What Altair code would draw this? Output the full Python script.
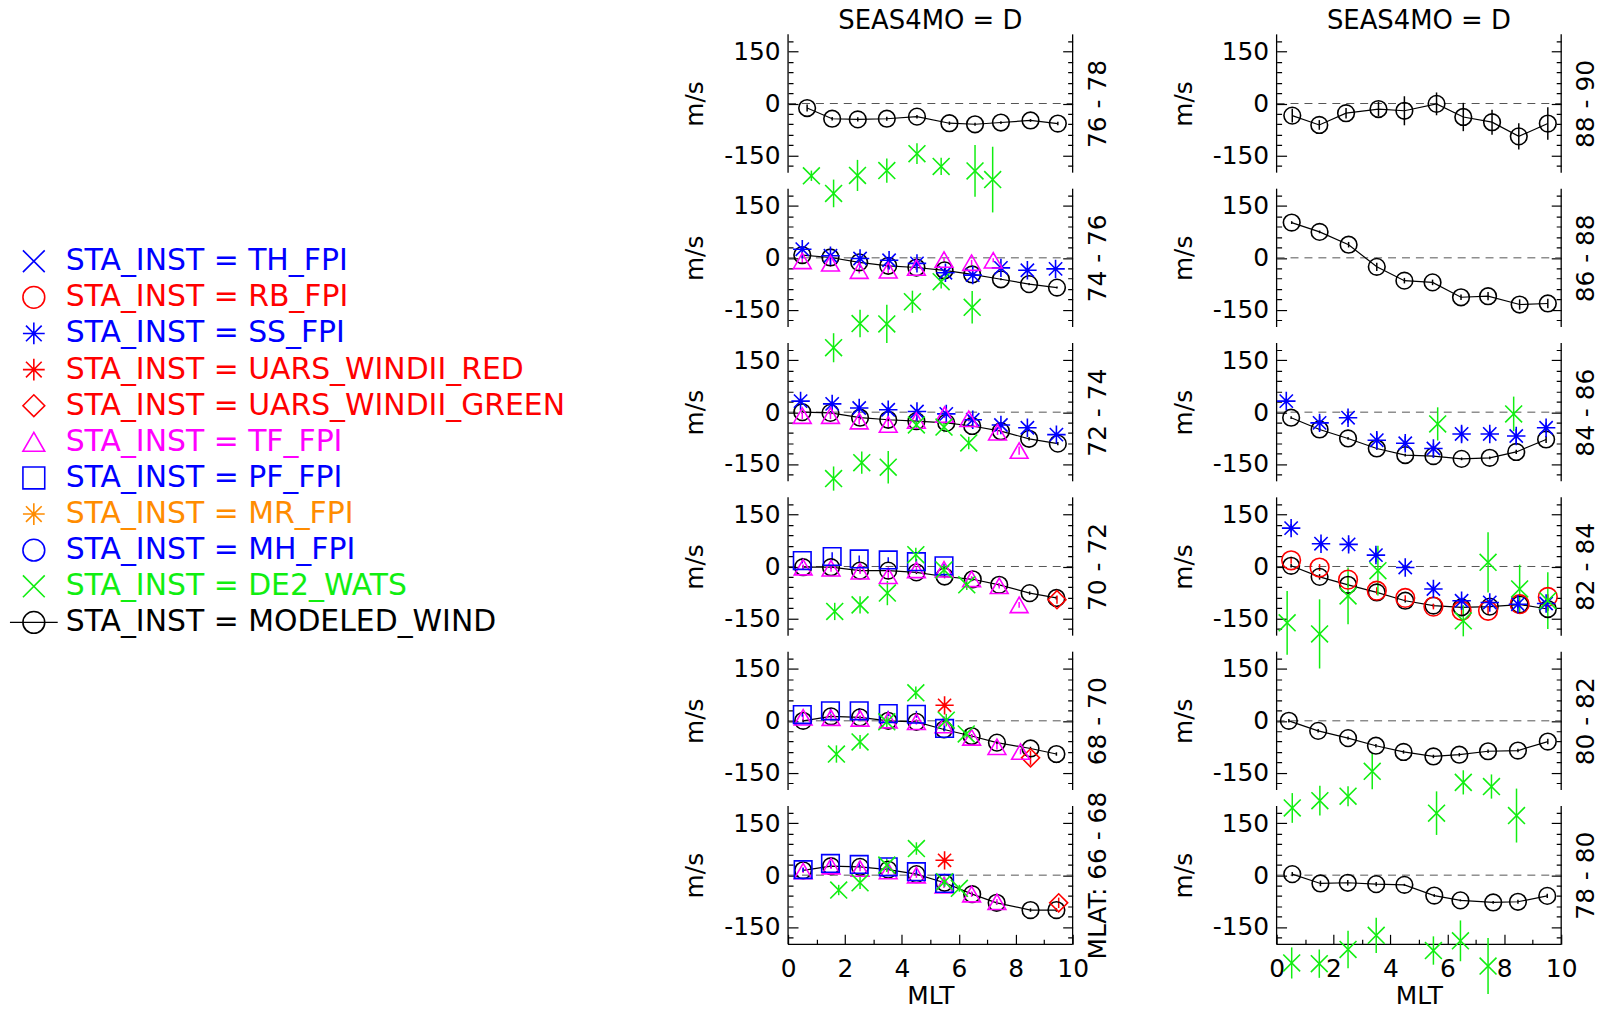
import altair as alt
import pandas as pd

FONT = "DejaVu Sans"

INSTRUMENTS = ["TH_FPI", "RB_FPI", "SS_FPI", "UARS_WINDII_RED", "UARS_WINDII_GREEN",
               "TF_FPI", "PF_FPI", "MR_FPI", "MH_FPI", "DE2_WATS", "MODELED_WIND"]
COLORS = ["#0000ff", "#ff0000", "#0000ff", "#ff0000", "#ff0000",
          "#ff00ff", "#0000ff", "#ff8c00", "#0000ff", "#11ee11", "#000000"]
XSHAPE = "M-1,-1L1,1M-1,1L1,-1"
ASTER = "M-1,0L1,0M0,-1L0,1M-0.72,-0.72L0.72,0.72M-0.72,0.72L0.72,-0.72"
SHAPES = [XSHAPE, "circle", ASTER, ASTER, "diamond",
          "triangle-up", "square", ASTER, "circle", XSHAPE, "circle"]
SIZES = [360, 280, 360, 360, 300, 300, 280, 360, 280, 360, 280]

# panel key -> right-hand label
LABELS = {
    "L1": "76 - 78", "L2": "74 - 76", "L3": "72 - 74", "L4": "70 - 72", "L5": "68 - 70", "L6": "MLAT: 66 - 68",
    "R1": "88 - 90", "R2": "86 - 88", "R3": "84 - 86", "R4": "82 - 84", "R5": "80 - 82", "R6": "78 - 80",
}

# values: instrument -> (MLT, wind m/s, error m/s)
L1 = {
    "MODELED_WIND": ([0.67, 1.55, 2.45, 3.47, 4.53, 5.67, 6.57, 7.48, 8.52, 9.48],
                     [-13, -44, -46, -44, -38, -57, -60, -55, -49, -58],
                     [10, 5, 6, 6, 5, 5, 4, 4, 4, 5]),
    "DE2_WATS": ([0.82, 1.6, 2.44, 3.47, 4.53, 5.38, 6.57, 7.19],
                 [-209, -260, -208, -194, -145, -182, -195, -220],
                 [15, 40, 45, 35, 30, 25, 75, 95]),
}
L2 = {
    "MODELED_WIND": ([0.5, 1.49, 2.5, 3.52, 4.51, 5.5, 6.47, 7.48, 8.47, 9.45],
                     [8, 1, -13, -23, -28, -36, -48, -62, -76, -86],
                     [8, 6, 8, 10, 6, 6, 5, 3, 3, 3]),
    "SS_FPI": ([0.5, 1.49, 2.53, 3.55, 4.53, 5.53, 6.49, 7.48, 8.41, 9.4],
               [25, 6, -2, -7, -16, -43, -50, -29, -36, -32],
               [6, 6, 6, 6, 6, 8, 8, 5, 4, 4]),
    "TF_FPI": ([0.5, 1.49, 2.5, 3.52, 4.51, 5.48, 6.45, 7.21],
               [-9, -16, -37, -36, -28, -5, -14, -7],
               [8, 10, 8, 8, 6, 6, 8, 6]),
    "DE2_WATS": ([1.6, 2.53, 3.47, 4.37, 5.38, 6.47],
                 [-260, -190, -191, -127, -69, -143],
                 [42, 40, 55, 32, 20, 47]),
}
L3 = {
    "MODELED_WIND": ([0.5, 1.49, 2.53, 3.52, 4.51, 5.56, 6.47, 7.48, 8.47, 9.48],
                     [0, -2, -16, -22, -26, -31, -40, -55, -77, -91],
                     [5, 5, 5, 5, 5, 5, 5, 5, 5, 5]),
    "SS_FPI": ([0.44, 1.55, 2.5, 3.52, 4.53, 5.56, 6.49, 7.48, 8.41, 9.43],
               [32, 24, 12, 7, 2, -5, -22, -37, -45, -65],
               [8, 8, 8, 8, 6, 6, 6, 6, 6, 6]),
    "TF_FPI": ([0.5, 1.49, 2.5, 3.52, 4.51, 5.5, 6.35, 7.36, 8.12],
               [-10, -10, -26, -36, -24, -7, -19, -58, -111],
               [10, 10, 10, 10, 8, 10, 8, 8, 12]),
    "DE2_WATS": ([1.6, 2.59, 3.52, 4.51, 5.48, 6.35],
                 [-192, -146, -159, -37, -43, -89],
                 [35, 32, 47, 12, 15, 18]),
}
L4 = {
    "MODELED_WIND": ([0.53, 1.51, 2.53, 3.52, 4.51, 5.5, 6.49, 7.42, 8.49, 9.43],
                     [-2, -2, -12, -12, -17, -29, -37, -53, -77, -91],
                     [5, 5, 5, 5, 5, 5, 5, 5, 5, 5]),
    "PF_FPI": ([0.5, 1.55, 2.5, 3.52, 4.51, 5.48],
               [17, 29, 22, 19, 14, 2],
               [8, 12, 10, 8, 8, 6]),
    "TF_FPI": ([0.53, 1.51, 2.53, 3.52, 4.51, 5.48, 6.45, 7.42, 8.12],
               [-2, -5, -14, -27, -10, -8, -36, -56, -111],
               [8, 10, 8, 10, 8, 8, 8, 8, 8]),
    "UARS_WINDII_GREEN": ([9.45], [-96], [12]),
    "DE2_WATS": ([1.64, 2.53, 3.49, 4.49, 5.48, 6.28],
                 [-130, -111, -77, 34, -10, -53],
                 [25, 25, 35, 20, 15, 15]),
}
L5 = {
    "MODELED_WIND": ([0.53, 1.51, 2.53, 3.52, 4.51, 5.48, 6.45, 7.34, 8.52, 9.43],
                     [0, 13, 10, 0, -3, -25, -44, -63, -80, -96],
                     [5, 5, 5, 5, 5, 5, 5, 5, 5, 5]),
    "PF_FPI": ([0.5, 1.49, 2.5, 3.52, 4.51, 5.5],
               [18, 29, 29, 21, 19, -22],
               [6, 8, 8, 8, 10, 8]),
    "TF_FPI": ([0.53, 1.51, 2.53, 3.52, 4.51, 5.48, 6.45, 7.34, 8.17],
               [10, 9, 7, 2, -3, -12, -48, -75, -89],
               [8, 8, 8, 8, 8, 8, 8, 8, 8]),
    "UARS_WINDII_GREEN": ([8.52], [-107], [20]),
    "UARS_WINDII_RED": ([5.5], [45], [8]),
    "DE2_WATS": ([1.7, 2.53, 3.47, 4.49, 5.56, 6.26],
                 [-96, -61, -3, 81, 2, -38],
                 [25, 20, 20, 18, 18, 12]),
}
L6 = {
    "MODELED_WIND": ([0.53, 1.51, 2.53, 3.52, 4.51, 5.5, 6.47, 7.33, 8.52, 9.43],
                     [14, 26, 24, 16, 3, -22, -55, -80, -101, -101],
                     [5, 5, 5, 5, 5, 5, 5, 5, 5, 5]),
    "PF_FPI": ([0.53, 1.49, 2.5, 3.52, 4.51, 5.5],
               [16, 34, 31, 24, 10, -24],
               [6, 8, 8, 8, 8, 8]),
    "TF_FPI": ([0.53, 1.51, 2.53, 3.52, 4.51, 5.48, 6.45, 7.34],
               [12, 26, 19, 12, 0, -29, -55, -77],
               [6, 8, 8, 8, 8, 8, 8, 8]),
    "UARS_WINDII_GREEN": ([9.51], [-80], [15]),
    "UARS_WINDII_RED": ([5.5], [43], [8]),
    "DE2_WATS": ([1.78, 2.53, 3.47, 4.51, 5.5, 6.02],
                 [-43, -22, 29, 77, -19, -38],
                 [15, 18, 20, 18, 15, 10]),
}
R1 = {
    "MODELED_WIND": ([0.55, 1.5, 2.44, 3.58, 4.49, 5.62, 6.56, 7.57, 8.51, 9.53],
                     [-35, -62, -28, -16, -21, -1, -39, -54, -95, -58],
                     [20, 14, 15, 21, 42, 33, 41, 36, 38, 47]),
}
R2 = {
    "MODELED_WIND": ([0.53, 1.51, 2.53, 3.52, 4.49, 5.48, 6.48, 7.43, 8.54, 9.53],
                     [102, 75, 38, -26, -66, -71, -114, -111, -135, -132],
                     [4, 4, 8, 12, 8, 8, 8, 12, 15, 14]),
}
R3 = {
    "MODELED_WIND": ([0.51, 1.51, 2.51, 3.52, 4.52, 5.51, 6.5, 7.49, 8.42, 9.47],
                     [-16, -50, -76, -105, -124, -127, -135, -132, -115, -79],
                     [4, 4, 4, 4, 4, 4, 4, 4, 6, 10]),
    "SS_FPI": ([0.34, 1.51, 2.51, 3.52, 4.52, 5.51, 6.5, 7.49, 8.42, 9.47],
               [32, -31, -16, -81, -90, -105, -63, -63, -69, -45],
               [10, 20, 15, 22, 20, 15, 22, 15, 20, 15]),
    "DE2_WATS": ([5.66, 8.33], [-34, -5], [48, 50]),
}
R4 = {
    "MODELED_WIND": ([0.51, 1.51, 2.51, 3.52, 4.52, 5.51, 6.5, 7.49, 8.54, 9.53],
                     [2, -30, -53, -75, -99, -113, -118, -116, -110, -123],
                     [5, 8, 5, 5, 5, 5, 5, 5, 5, 5]),
    "RB_FPI": ([0.51, 1.51, 2.51, 3.52, 4.52, 5.51, 6.5, 7.43, 8.54, 9.53],
               [18, -3, -38, -70, -91, -116, -128, -128, -109, -88],
               [10, 10, 10, 10, 8, 8, 12, 12, 8, 8]),
    "SS_FPI": ([0.51, 1.56, 2.53, 3.49, 4.52, 5.51, 6.5, 7.49, 8.48, 9.47],
               [111, 66, 64, 33, -3, -65, -99, -104, -109, -107],
               [12, 12, 18, 20, 8, 12, 10, 10, 12, 12]),
    "DE2_WATS": ([0.37, 1.51, 2.51, 3.56, 6.56, 7.43, 8.54, 9.53],
                 [-163, -195, -85, -12, -157, 12, -65, -99],
                 [92, 100, 82, 72, 45, 87, 70, 82]),
}
R5 = {
    "MODELED_WIND": ([0.43, 1.46, 2.51, 3.49, 4.46, 5.51, 6.42, 7.43, 8.48, 9.53],
                     [0, -29, -50, -72, -90, -103, -98, -88, -86, -60],
                     [5, 5, 5, 5, 5, 5, 5, 5, 5, 8]),
    "DE2_WATS": ([0.55, 1.52, 2.51, 3.36, 5.62, 6.56, 7.55, 8.43],
                 [-252, -231, -218, -146, -267, -178, -190, -274],
                 [43, 43, 29, 52, 63, 35, 35, 78]),
}
R6 = {
    "MODELED_WIND": ([0.55, 1.54, 2.5, 3.5, 4.49, 5.54, 6.46, 7.61, 8.48, 9.51],
                     [3, -24, -22, -26, -28, -59, -73, -79, -77, -60],
                     [6, 8, 8, 6, 3, 4, 3, 4, 6, 6]),
    "DE2_WATS": ([0.53, 1.5, 2.51, 3.5, 5.51, 6.46, 7.43],
                 [-254, -256, -215, -174, -218, -190, -263],
                 [45, 41, 54, 51, 41, 59, 81]),
}
PANELS = {"L1": L1, "L2": L2, "L3": L3, "L4": L4, "L5": L5, "L6": L6,
          "R1": R1, "R2": R2, "R3": R3, "R4": R4, "R5": R5, "R6": R6}

YTICKS = list(range(-180, 181, 30))
XTICKS = list(range(0, 11))

rows = []
for key, series in PANELS.items():
    for inst in ["MODELED_WIND"] + [i for i in INSTRUMENTS if i != "MODELED_WIND"]:
        if inst not in series:
            continue
        xs, ys, es = series[inst]
        for x, y, e in zip(xs, ys, es):
            rows.append({"panel": key, "inst": inst, "x": x, "y": y, "lo": y - e, "hi": y + e})
DF = pd.DataFrame(rows)

W, H = 286, 139
XSC = alt.Scale(domain=[0, 10], nice=False, zero=False)
YSC = alt.Scale(domain=[-200, 200], nice=False, zero=False)
COLOR = alt.Color("inst:N", scale=alt.Scale(domain=INSTRUMENTS, range=COLORS), legend=None)
SHAPE = alt.Shape("inst:N", scale=alt.Scale(domain=INSTRUMENTS, range=SHAPES), legend=None)
SIZE = alt.Size("inst:N", scale=alt.Scale(domain=INSTRUMENTS, range=SIZES), legend=None)
FS = 25


def y_dash():
    return {"condition": {"test": "datum.value % 150 === 0", "value": [10, 0]}, "value": [0, 5, 5]}


def left_axis():
    return alt.Axis(orient="left", values=YTICKS, offset=-10, domain=False, grid=False,
                    tickSize=10, tickColor="black", tickWidth=1.2, tickDash=y_dash(),
                    labelExpr="datum.value % 150 === 0 ? '' + datum.value : ''",
                    labelFont=FONT, labelFontSize=FS, labelColor="black", labelPadding=8,
                    labelOverlap=False, labelFlush=False,
                    title="m/s", titleFont=FONT, titleFontSize=FS, titleFontWeight="normal",
                    titleColor="black", titlePadding=16)


def right_axis(label):
    return alt.Axis(orient="right", values=YTICKS, offset=-10, domain=False, grid=False,
                    tickSize=10, tickColor="black", tickWidth=1.2, tickDash=y_dash(),
                    labels=False, title=label, titleAngle=270, titleBaseline="top",
                    titleFont=FONT, titleFontSize=FS, titleFontWeight="normal",
                    titleColor="black", titlePadding=12)


def x_axis():
    return alt.Axis(orient="bottom", values=XTICKS, offset=-10, domain=False, grid=False,
                    tickSize=10, tickColor="black", tickWidth=1.2,
                    tickDash={"condition": {"test": "datum.value % 2 === 0", "value": [10, 0]},
                              "value": [0, 5, 5]},
                    labelExpr="datum.value % 2 === 0 ? datum.label : ''",
                    labelFont=FONT, labelFontSize=FS, labelColor="black", labelPadding=12,
                    labelOverlap=False, labelFlush=False,
                    title="MLT", titleFont=FONT, titleFontSize=FS, titleFontWeight="normal",
                    titleColor="black", titlePadding=2)


ONE = pd.DataFrame({"k": [0]})


def panel(key, top, bottom):
    base = alt.Chart(DF).transform_filter(alt.datum.panel == key)
    one = alt.Chart(ONE)
    frame_l = one.mark_rule(color="black", strokeWidth=1.3).encode(
        x=alt.XDatum(0, scale=XSC, axis=None), y=alt.YDatum(-200, scale=YSC, axis=None),
        y2=alt.Y2Datum(200))
    frame_r = one.mark_rule(color="black", strokeWidth=1.3).encode(
        x=alt.XDatum(10, scale=XSC, axis=None), y=alt.YDatum(-200, scale=YSC, axis=None),
        y2=alt.Y2Datum(200))
    zero = one.mark_rule(color="#555555", strokeWidth=1, strokeDash=[8, 6]).encode(
        x=alt.XDatum(0, scale=XSC, axis=None), x2=alt.X2Datum(10),
        y=alt.YDatum(0, scale=YSC, axis=None))
    line = base.transform_filter(alt.datum.inst == "MODELED_WIND").mark_line(
        color="black", strokeWidth=1.2).encode(
        x=alt.X("x:Q", scale=XSC, axis=None),
        y=alt.Y("y:Q", scale=YSC, axis=right_axis(LABELS[key])))
    err = base.mark_rule(strokeWidth=1.5).encode(
        x=alt.X("x:Q", scale=XSC, axis=None),
        y=alt.Y("lo:Q", scale=YSC, axis=None), y2="hi:Q", color=COLOR)
    pts = base.mark_point(filled=False, strokeWidth=1.6, opacity=1).encode(
        x=alt.X("x:Q", scale=XSC, axis=x_axis() if bottom else None),
        y=alt.Y("y:Q", scale=YSC, axis=left_axis()),
        color=COLOR, shape=SHAPE, size=SIZE)
    layers = [zero, frame_l, frame_r]
    if bottom:
        layers.append(one.mark_rule(color="black", strokeWidth=1.3).encode(
            x=alt.XDatum(0, scale=XSC, axis=None), x2=alt.X2Datum(10),
            y=alt.YDatum(-200, scale=YSC, axis=None)))
    layers += [line, err, pts]
    ch = alt.layer(*layers).resolve_axis(x="independent", y="independent").properties(
        width=W, height=H)
    if top:
        ch = ch.properties(title=alt.TitleParams(
            text="SEAS4MO = D", font=FONT, fontSize=26, fontWeight="normal", color="black",
            anchor="middle", offset=-4.5))
    return ch


order = []
for r in range(1, 7):
    for c in ["L", "R"]:
        order.append(panel(f"{c}{r}", r == 1, r == 6))

grid = alt.concat(*order, columns=2, spacing={"row": 16.1, "column": 205}, bounds="flush")

# ---- legend ----
LEG = pd.DataFrame({"inst": INSTRUMENTS})
leg_base = alt.Chart(LEG).transform_calculate(label="'STA_INST = ' + datum.inst")
LEG_Y = alt.Y("inst:N", axis=None,
              scale=alt.Scale(type="point", domain=INSTRUMENTS, range=[228, 591], padding=0))
leg_line = leg_base.transform_filter(alt.datum.inst == "MODELED_WIND").mark_rule(
    color="black", strokeWidth=1.3).encode(x=alt.value(5), x2=alt.value(53), y=LEG_Y)
leg_sym = leg_base.mark_point(filled=False, size=480, strokeWidth=1.6, opacity=1).encode(
    x=alt.value(29), y=LEG_Y, color=COLOR, shape=SHAPE)
leg_txt = leg_base.mark_text(align="left", baseline="middle", font=FONT, fontSize=30).encode(
    x=alt.value(61), y=LEG_Y, text="label:N", color=COLOR)
legend = alt.layer(leg_line, leg_sym, leg_txt).properties(
    width=620, height=640, view=alt.ViewBackground(fill="white", stroke=None))

chart = alt.hconcat(legend, grid, spacing=61).configure_view(stroke=None).properties(
    padding={"left": 5, "top": 5, "right": 0, "bottom": 0}, background="white")

chart.save("out.html", embed_options={"renderer": "svg", "actions": False})
